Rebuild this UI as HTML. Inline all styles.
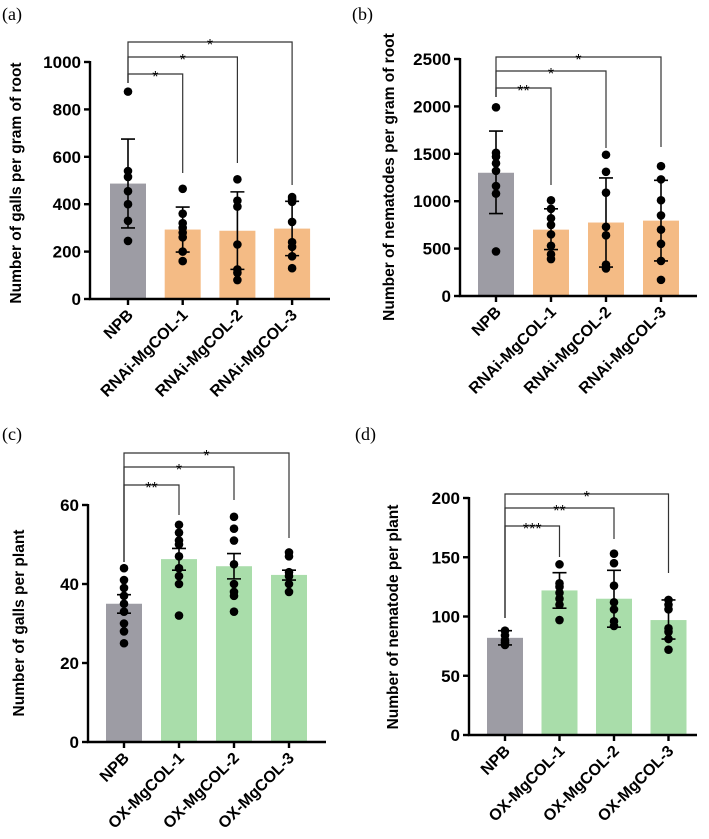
<!DOCTYPE html>
<html><head><meta charset="utf-8"><style>
body{margin:0;background:#fff}
svg{display:block;font-family:"Liberation Sans",Arial,sans-serif}
</style></head><body>
<svg id="fig" width="709" height="839" viewBox="0 0 709 839">
<text x="2" y="20" font-size="18" font-family="Liberation Serif">(a)</text>
<text x="352" y="20" font-size="18" font-family="Liberation Serif">(b)</text>
<text x="2" y="440" font-size="18" font-family="Liberation Serif">(c)</text>
<text x="355" y="440" font-size="18" font-family="Liberation Serif">(d)</text>
</svg>
<script>
const catsRNAi = ["NPB","RNAi-MgCOL-1","RNAi-MgCOL-2","RNAi-MgCOL-3"];
const catsOX = ["NPB","OX-MgCOL-1","OX-MgCOL-2","OX-MgCOL-3"];
const meansA = [487,293,288,297];
const errLoA = [300,198,125,183];
const errHiA = [675,388,452,412];
const pointsA = [[875,540,515,455,400,330,245],[465,360,320,300,280,260,200,160],[505,415,390,230,125,110,80],[430,420,410,325,240,220,180,130]];
const ticksA = [0,200,400,600,800,1000];
const sigA = ["*","*","*"];
const meansB = [1300,700,775,795];
const errLoB = [870,490,305,370];
const errHiB = [1740,920,1245,1220];
const pointsB = [[1990,1510,1470,1400,1320,1160,1080,470],[1010,920,820,750,650,530,440,390],[1490,1310,1090,730,640,330,290],[1370,1230,1010,850,700,550,370,170]];
const ticksB = [0,500,1000,1500,2000,2500];
const sigB = ["**","*","*"];
const meansC = [35,46.3,44.5,42.3];
const errLoC = [32.6,43.5,41.3,41];
const errHiC = [37.3,49,47.7,43.5];
const pointsC = [[44,41,39,37,35,33,30,28,25],[55,53,51,50,47,44,42,40,32],[57,54,51,45,40,38,37,33],[48,47,43,42,40,38]];
const ticksC = [0,20,40,60];
const sigC = ["**","*","*"];
const meansD = [82,122,115,97];
const errLoD = [76,107,91,81];
const errHiD = [88,137,139,114];
const pointsD = [[88,84,80,78,76],[144,128,125,120,115,110,97],[153,145,126,112,106,96,92],[114,110,106,90,87,81,72]];
const ticksD = [0,50,100,150,200];
const sigD = ["***","**","*"];

const NS="http://www.w3.org/2000/svg";
const svg=document.getElementById('fig');
function mk(tag,attrs,parent){const e=document.createElementNS(NS,tag);for(const k in attrs)e.setAttribute(k,attrs[k]);(parent||svg).appendChild(e);return e;}

function panel(p){
  const g=mk('g',{});
  
  
  const ymax=p.ticks[p.ticks.length-1];
  const y=v=>p.y0-(v/ymax)*(p.y0-p.yTop);
  const x=i=>p.c0+i*p.step;
  p.means.forEach((m,i)=>{
    const r=mk('rect',{x:x(i)-18,y:y(m),width:36,height:p.y0-y(m),fill:i===0?'#9d9ca4':p.color},g);
    
    
  });
  p.points.forEach((arr,i)=>arr.forEach(v=>{
    const c=mk('circle',{cx:x(i),cy:y(v),r:4.3,fill:'#000'},g);
    
    
  }));
  p.means.forEach((m,i)=>{
    const e=mk('path',{d:`M${x(i)} ${y(p.lo[i])}V${y(p.hi[i])}M${x(i)-7} ${y(p.lo[i])}h14M${x(i)-7} ${y(p.hi[i])}h14`,stroke:'#000','stroke-width':1.6,fill:'none'},g);
    
    
  });
  const ax=mk('path',{d:`M${p.ax} ${p.yTop-1}V${p.y0}H${p.axEnd}`,stroke:'#000','stroke-width':2.4,fill:'none'},g);
  
  
  p.ticks.forEach(t=>{
    mk('line',{x1:p.ax-6,x2:p.ax,y1:y(t),y2:y(t),stroke:'#000','stroke-width':2.4},g);
    const tl=mk('text',{x:p.ax-9,y:y(t)+6,'font-size':17,'font-weight':'bold','text-anchor':'end'},g);
    tl.textContent=t;
    
    
  });
  p.cats.forEach((c,i)=>{
    mk('line',{x1:x(i),x2:x(i),y1:p.y0,y2:p.y0+6,stroke:'#000','stroke-width':2.4},g);
    const tx=x(i)+6, ty=p.y0+17;
    const tl=mk('text',{x:tx,y:ty,'font-size':16,'font-weight':'bold','text-anchor':'end',transform:`rotate(-45 ${tx} ${ty})`},g);
    tl.textContent=c;
    
    
  });
  const yt=mk('text',{x:p.titleX,y:p.titleY,'font-size':15.5,'font-weight':'bold','text-anchor':'middle',transform:`rotate(-90 ${p.titleX} ${p.titleY})`},g);
  yt.textContent=p.title;
  
  
  p.sig.forEach((s,k)=>{
    const i=k+1;
    const br=mk('path',{d:`M${x(0)} ${p.npbStart}V${p.bY[k]}H${x(i)}V${p.bEnd[k]}`,stroke:'#333','stroke-width':1.2,fill:'none'},g);
    
    
    const st=mk('text',{x:(x(0)+x(i))/2,y:p.bY[k]+8,'font-size':16,'text-anchor':'middle'},g);
    st.textContent=s;
    
    
  });
}
panel({name:'panel-a',cats:catsRNAi,means:meansA,lo:errLoA,hi:errHiA,points:pointsA,ticks:ticksA,sig:sigA,color:'#f4bb85',
  ax:90,axEnd:330,y0:299,yTop:62,c0:128,step:54.7,title:'Number of galls per gram of root',titleX:21,titleY:183,
  npbStart:83,bY:[74,57,42],bEnd:[173,163,185]});
panel({name:'panel-b',cats:catsRNAi,means:meansB,lo:errLoB,hi:errHiB,points:pointsB,ticks:ticksB,sig:sigB,color:'#f4bb85',
  ax:460,axEnd:697,y0:296,yTop:59,c0:496,step:55,title:'Number of nematodes per gram of root',titleX:394,titleY:177,
  npbStart:97,bY:[88,71,57],bEnd:[185,148,147]});
panel({name:'panel-c',cats:catsOX,means:meansC,lo:errLoC,hi:errHiC,points:pointsC,ticks:ticksC,sig:sigC,color:'#a9ddaa',
  ax:88,axEnd:326,y0:742,yTop:505,c0:124,step:55,title:'Number of galls per plant',titleX:24,titleY:623,
  npbStart:562,bY:[485,467,453],bEnd:[515,500,538]});
panel({name:'panel-d',cats:catsOX,means:meansD,lo:errLoD,hi:errHiD,points:pointsD,ticks:ticksD,sig:sigD,color:'#a9ddaa',
  ax:469,axEnd:697,y0:735,yTop:498,c0:505,step:54.5,title:'Number of nematode per plant',titleX:398,titleY:617,
  npbStart:618,bY:[526,508,494],bEnd:[557,539,573]});
</script>
</body></html>
